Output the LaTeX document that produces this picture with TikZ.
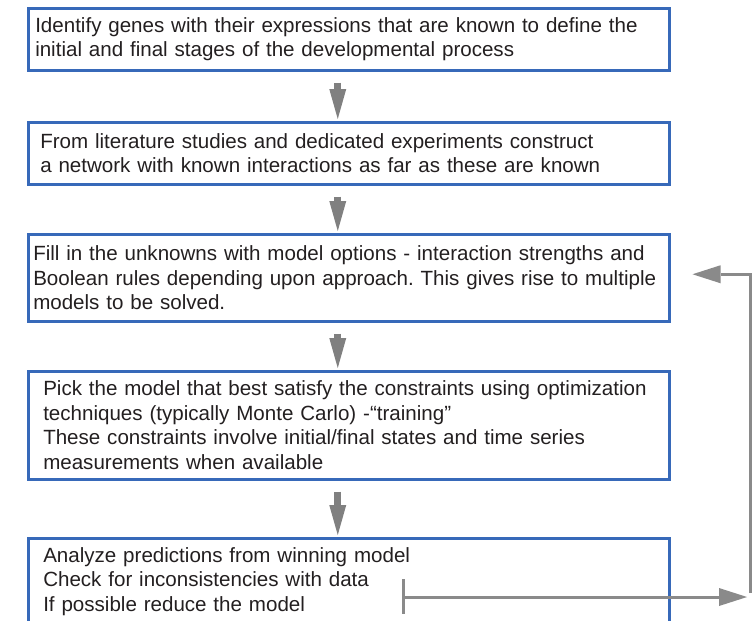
\documentclass[tikz,border=0pt]{standalone}
\usepackage{fontspec}
\setmainfont{Liberation Sans}
\usetikzlibrary{arrows.meta,calc,positioning}
\definecolor{boxblue}{RGB}{55,105,185}
\definecolor{flowgray}{RGB}{128,128,128}
\definecolor{backgray}{RGB}{138,138,138}
\definecolor{textgray}{RGB}{35,31,32}
\newlength{\px}
\setlength{\px}{0.2mm}
\frenchspacing

\begin{document}
\begin{tikzpicture}[x=0.2mm,y=-0.2mm,
  box/.style={draw=boxblue, line width=2.5\px, anchor=north west, align=left,
    minimum width=641\px, text width=#1, inner xsep=0pt, inner ysep=0pt, text=textgray,
    font=\fontsize{11.7}{13.9}\selectfont},
  flow/.style={flowgray, line width=7\px, -{Triangle[length=6mm,width=3.4mm,line width=0pt]},
    shorten <=11\px, shorten >=2\px},
  backline/.style={backgray, line width=3\px},
  backtip/.style={-{Triangle[length=5.6mm,width=3.6mm,line width=0pt]}}]
\clip (0,0) rectangle (752,620);
% the five steps
\draw (27,7) node (b1) [box=627\px, minimum height=62\px] {Identify genes with their expressions that are known to define the\\initial and final stages of the developmental process};
\draw (27,121) node (b2) [box=617\px, minimum height=62\px] {From literature studies and dedicated experiments construct\\a network with known interactions as far as these are known};
\draw (27,233) node (b3) [box=631\px, minimum height=87\px] {Fill in the unknowns with model options - interaction strengths and\\Boolean rules depending upon approach. This gives rise to multiple\\models to be solved.};
\draw (27,370) node (b4) [box=611\px, minimum height=108\px] {Pick the model that best satisfy the constraints using optimization\\techniques (typically Monte Carlo) -“training”\\These constraints involve initial/final states and time series\\measurements when available};
\draw (27,537) node (b5) [box=611\px, minimum height=86\px] {Analyze predictions from winning model\\Check for inconsistencies with data\\If possible reduce the model};
% arrows between steps
\draw[flow] ([xshift=-11\px]b1.south) -- ([xshift=-11\px]b2.north);
\draw[flow] ([xshift=-11\px]b2.south) -- ([xshift=-11\px]b3.north);
\draw[flow] ([xshift=-11\px]b3.south) -- ([xshift=-11\px]b4.north);
\draw[flow] ([xshift=-11\px]b4.south) -- ([xshift=-11\px]b5.north);
% feedback loop
\coordinate (fbstart) at (403,597);
\coordinate (fbend) at (747,597);
\coordinate (fbtop) at (750,593);
\draw[backline] ($(fbstart)+(0,-18)$) -- ($(fbstart)+(0,17)$);
\draw[backline, backtip] (fbstart) -- (fbend);
\draw[backline, backtip] (fbtop) |- ([xshift=22\px,yshift=3.5\px]b3.east);
\end{tikzpicture}
\end{document}
